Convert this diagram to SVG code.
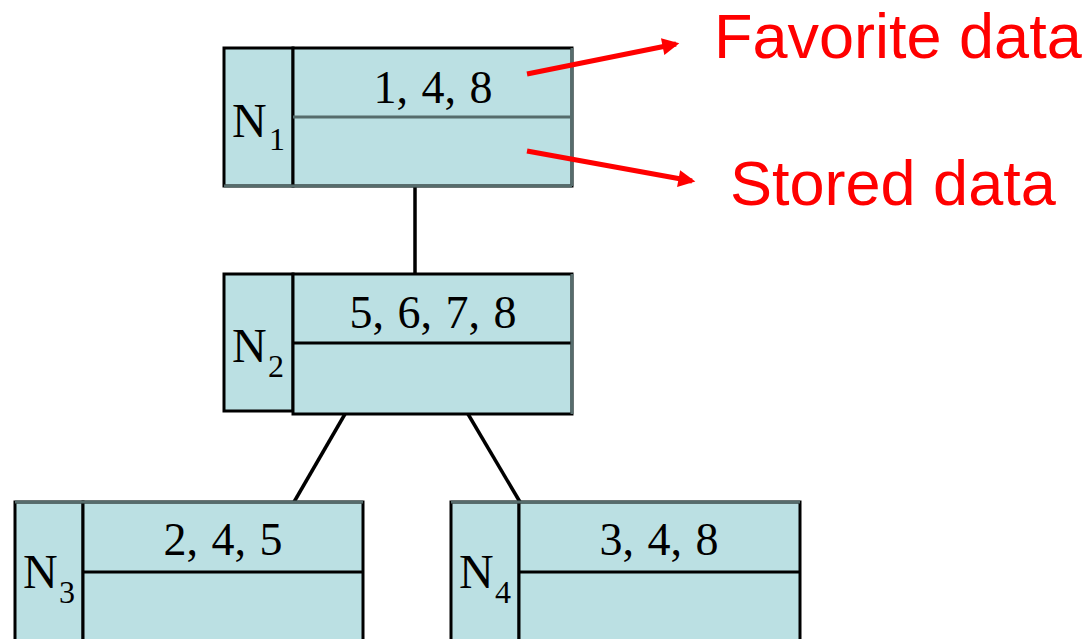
<svg xmlns="http://www.w3.org/2000/svg" width="1090" height="639" viewBox="0 0 1090 639">
  <style>
    .cell { fill: #bbe0e3; stroke: #000; stroke-width: 3; }
    .div { stroke: #000; stroke-width: 3; }
    .edge { stroke: #566c6c; stroke-width: 3; }
    .num { font-family: "Liberation Serif", serif; font-size: 46px; fill: #000; text-anchor: middle; word-spacing: 2px; }
    .nm { font-family: "Liberation Serif", serif; font-size: 48px; fill: #000; }
    .sub { font-family: "Liberation Serif", serif; font-size: 32px; fill: #000; }
    .link { stroke: #000; stroke-width: 3.5; fill: none; }
    .note { stroke: #ff0000; stroke-width: 5; fill: none; }
    .lbl { font-family: "Liberation Sans", Arial, sans-serif; font-size: 63px; fill: #ff0000; }
  </style>
  <defs>
    <marker id="redhead" viewBox="0 0 10 10" refX="8" refY="5" markerWidth="3.6" markerHeight="3.4" orient="auto" markerUnits="strokeWidth">
      <path d="M0,0 L10,5 L0,10 Z" fill="#ff0000"/>
    </marker>
  </defs>

  <!-- tree links -->
  <g id="connectors">
    <line class="link" x1="415" y1="186" x2="415" y2="274"/>
    <line class="link" x1="345" y1="414" x2="294" y2="502"/>
    <line class="link" x1="468" y1="414" x2="520" y2="502"/>
  </g>

  <g id="n1">
    <rect class="cell" x="224" y="48" width="69" height="138"/>
    <rect class="cell" x="293" y="48" width="279" height="138"/>
    <line class="edge" x1="293" y1="117" x2="572" y2="117"/>
    <line class="edge" x1="572" y1="48" x2="572" y2="186"/>
    <line class="edge" x1="224" y1="186" x2="572" y2="186"/>
    <text class="num" x="433" y="103">1, 4, 8</text>
    <text class="nm" x="232" y="137">N</text>
    <text class="sub" x="269" y="150">1</text>
  </g>

  <g id="n2">
    <rect class="cell" x="224" y="274" width="69" height="137"/>
    <rect class="cell" x="293" y="274" width="279" height="140"/>
    <line class="div" x1="293" y1="343" x2="572" y2="343"/>
    <line class="edge" x1="572" y1="274" x2="572" y2="414"/>
    <text class="num" x="433" y="328">5, 6, 7, 8</text>
    <text class="nm" x="232" y="362">N</text>
    <text class="sub" x="268" y="377">2</text>
  </g>

  <g id="n3">
    <rect class="cell" x="15" y="502" width="68" height="145"/>
    <rect class="cell" x="83" y="502" width="280" height="145"/>
    <line class="edge" x1="15" y1="502" x2="363" y2="502"/>
    <line class="div" x1="83" y1="572" x2="363" y2="572"/>
    <text class="num" x="223" y="555">2, 4, 5</text>
    <text class="nm" x="23" y="588">N</text>
    <text class="sub" x="59" y="603">3</text>
  </g>

  <g id="n4">
    <rect class="cell" x="451" y="502" width="68" height="145"/>
    <rect class="cell" x="519" y="502" width="281" height="145"/>
    <line class="edge" x1="451" y1="502" x2="800" y2="502"/>
    <line class="div" x1="519" y1="572" x2="800" y2="572"/>
    <text class="num" x="659" y="555">3, 4, 8</text>
    <text class="nm" x="459" y="588">N</text>
    <text class="sub" x="495" y="603">4</text>
  </g>

  <!-- red call-out arrows drawn over the root node -->
  <g id="callouts">
    <line class="note" x1="527" y1="74" x2="676" y2="44" marker-end="url(#redhead)"/>
    <line class="note" x1="527" y1="151" x2="692" y2="181" marker-end="url(#redhead)"/>
    <text class="lbl" x="714" y="58">Favorite data</text>
    <text class="lbl" x="730" y="205">Stored data</text>
  </g>
</svg>
